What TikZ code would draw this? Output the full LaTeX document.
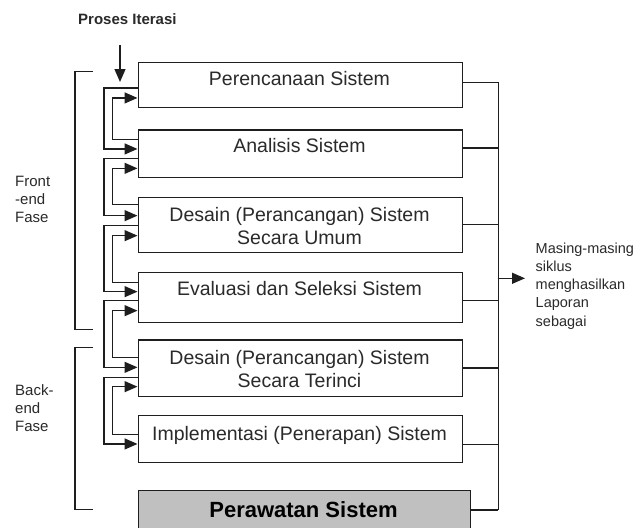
\documentclass[tikz,border=0pt]{standalone}
\usepackage{fontspec}
\setmainfont{Liberation Sans}
\usetikzlibrary{arrows.meta}

\definecolor{inkline}{HTML}{1E1E1E}
\definecolor{inktext}{HTML}{2A2A2A}
\definecolor{stagegray}{HTML}{C0C0C0}

\tikzset{
  wire/.style={draw=inkline, line width=1.3pt},
  arr/.style={wire, -{Triangle[length=13pt,width=11pt]}},
  stagebox/.style={draw=inkline, line width=1.3pt, minimum width=324pt,
    inner sep=0pt, anchor=north west},
  stagetext/.style={text=inktext, inner sep=0pt, align=center,
    font=\fontsize{19.5}{23.3}\selectfont},
  sidetext/.style={text=inktext, inner sep=0pt, align=left, anchor=north west,
    font=\fontsize{15}{18}\selectfont},
  notetext/.style={text=inktext, inner sep=0pt, align=left, anchor=north west,
    font=\fontsize{14.5}{18.2}\selectfont},
}

\begin{document}
\begin{tikzpicture}[x=1pt,y=-1pt]
  \clip (0,0) rectangle (639,527);
  \fill[white] (0,0) rectangle (639,527);

  % stage boxes
  \node[stagebox, minimum height=45pt]   (b1) at (137.5,62)    {};
  \node[stagebox, minimum height=47.4pt] (b2) at (137.5,129.3) {};
  \node[stagebox, minimum height=55.2pt] (b3) at (137.5,196.5) {};
  \node[stagebox, minimum height=49.7pt] (b4) at (137.5,272)   {};
  \node[stagebox, minimum height=56.4pt] (b5) at (137.5,339.2) {};
  \node[stagebox, minimum height=47pt]   (b6) at (137.5,415)   {};
  \node[stagebox, minimum height=50pt, minimum width=332pt, fill=stagegray]
       (b7) at (137.5,490) {};

  % stage titles
  \node[stagetext, anchor=base]  (t1) at (299.5,85.7)  {Perencanaan Sistem};
  \node[stagetext, anchor=base]  (t2) at (299.5,152.3) {Analisis Sistem};
  \node[stagetext, anchor=north] (t3) at (299.5,206.7) {Desain (Perancangan) Sistem\\Secara Umum};
  \node[stagetext, anchor=base]  (t4) at (299.5,295.7) {Evaluasi dan Seleksi Sistem};
  \node[stagetext, anchor=north] (t5) at (299.5,350)   {Desain (Perancangan) Sistem\\Secara Terinci};
  \node[stagetext, anchor=base]  (t6) at (299.5,440.7) {Implementasi (Penerapan) Sistem};
  \node[stagetext, anchor=base, font=\fontsize{22}{26}\selectfont\bfseries, text=black]
       (t7) at (303.5,517.5) {Perawatan Sistem};

  % iteration label and its arrow
  \node[text=inktext, inner sep=0pt, anchor=base west, font=\fontsize{15}{18}\selectfont\bfseries]
       (iter) at (78,25) {Proses Iterasi};
  \coordinate (iterFrom) at (120,45);
  \coordinate (iterTo)   at (120,82);
  \draw[arr] (iterFrom) -- (iterTo);

  % forward steps (outer lane)
  \draw[arr] ([yshift=-2.8pt]b1.west)  -- ++(-33.5,0) |- ([yshift=4.7pt]b2.west);
  \draw[arr] ([yshift=-4.7pt]b2.west)  -- ++(-33.5,0) |- ([yshift=9.1pt]b3.west);
  \draw[arr] ([yshift=-0.9pt]b3.west)  -- ++(-33.5,0) |- ([yshift=5.85pt]b4.west);
  \draw[arr] ([yshift=-3.15pt]b4.west) -- ++(-33.5,0) |- ([yshift=0.7pt]b5.west);
  \draw[arr] ([yshift=-9.3pt]b5.west)  -- ++(-33.5,0) |- ([yshift=-4.8pt]b6.west);

  % backward steps (inner lane)
  \draw[arr] ([yshift=14pt]b2.west)    -- ++(-25.2,0) |- ([yshift=-12.8pt]b1.west);
  \draw[arr] ([yshift=20.1pt]b3.west)  -- ++(-25.2,0) |- ([yshift=-14.7pt]b2.west);
  \draw[arr] ([yshift=15.15pt]b4.west) -- ++(-25.2,0) |- ([yshift=-10.9pt]b3.west);
  \draw[arr] ([yshift=10.4pt]b5.west)  -- ++(-25.2,0) |- ([yshift=-13.15pt]b4.west);
  \draw[arr] ([yshift=4.5pt]b6.west)   -- ++(-25.2,0) |- ([yshift=-18.6pt]b5.west);

  % report bus on the right
  \draw[wire] ([yshift=2.8pt]b1.east)   -- ++(35.35,0) coordinate (busTop);
  \draw[wire] ([yshift=5.7pt]b2.east)   -- ++(35.35,0);
  \draw[wire] (b3.east)                 -- ++(35.35,0);
  \draw[wire] ([yshift=-3.15pt]b4.east) -- ++(35.35,0);
  \draw[wire] (b5.east)                 -- ++(35.35,0);
  \draw[wire] ([yshift=-5.5pt]b6.east)  -- ++(35.35,0);
  \draw[wire] ([yshift=5.7pt]b7.east)   -- ++(27.35,0) coordinate (busBot);
  \draw[wire] (busTop) -- (busBot);

  \coordinate (busOut)  at (497.5,278.3);
  \coordinate (noteTip) at (525,278.3);
  \draw[arr] (busOut) -- (noteTip);
  \node[notetext] (note) at (535.5,242.6)
       {Masing-masing\\siklus\\menghasilkan\\Laporan\\sebagai};

  % phase brackets
  \draw[wire] (93,71.7) -- (75,71.7) -- (75,329.3) -- (93,329.3);
  \draw[wire] (93,347.7) -- (75,347.7) -- (75,509.3) -- (93,509.3);
  \node[sidetext] (front) at (15,176)   {Front\\-end\\Fase};
  \node[sidetext] (back)  at (15,384.3) {Back-\\end\\Fase};
\end{tikzpicture}
\end{document}
